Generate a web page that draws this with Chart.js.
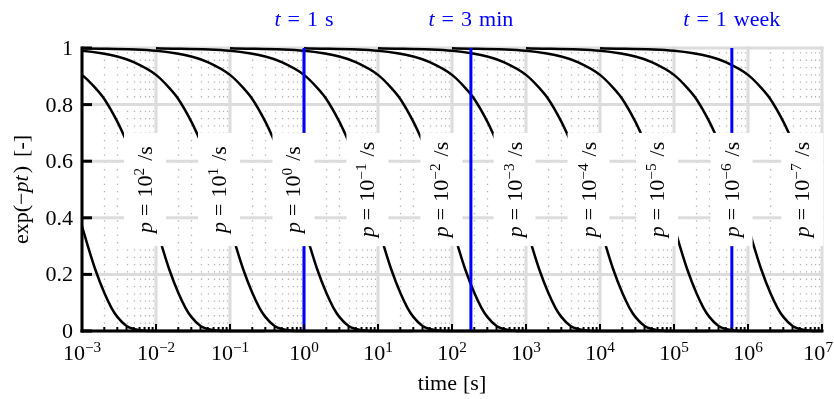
<!DOCTYPE html>
<html><head><meta charset="utf-8">
<script src="https://cdn.jsdelivr.net/npm/chart.js@4.4.0/dist/chart.umd.min.js"></script>
<style>html,body{margin:0;padding:0;background:#fff;}</style>
</head><body>
<canvas id="c" width="834" height="399" style="display:block;width:834px;height:399px"></canvas>
<script>
// ---- data ----
const rateExponents = [3, 2, 1, 0, -1, -2, -3, -4, -5, -6, -7];          // p = 10^k /s
const shapePT = [0.001, 0.01, 0.03, 0.05, 0.1, 0.15, 0.2, 0.3, 0.4, 0.5, 0.6, 0.7, 0.8, 1, 1.2, 1.5, 2, 2.5, 3, 4, 5, 7, 10, 30];
const shapeY  = [0.999, 0.99, 0.97, 0.95, 0.905, 0.86, 0.82, 0.74, 0.67, 0.61, 0.55, 0.50, 0.45, 0.37, 0.30, 0.22, 0.135, 0.082, 0.05, 0.018, 0.007, 0.001, 0, 0];
const labelExponents = [2, 1, 0, -1, -2, -3, -4, -5, -6, -7];
const labelTimes = [7.1e-3, 7.1e-2, 0.72, 7.2, 72, 700, 7000, 5.9e4, 6.0e5, 5.4e6];
const markerTimes = [1, 180, 604800];
const markerLabels = ['1', '3', '1'];
const markerUnits = ['s', 'min', 'week'];
const xTickExponents = [-3, -2, -1, 0, 1, 2, 3, 4, 5, 6, 7];
const yTickValues = [0, 0.2, 0.4, 0.6, 0.8, 1];
const yTickLabels = ['0', '0.2', '0.4', '0.6', '0.8', '1'];

// ---- helpers ----
const FAM = '"Liberation Serif", "Times New Roman", serif';
const FS = 21, SUP = 14.5, SX = 1.05;
function fnt(size, italic){ return (italic ? 'italic ' : '') + size + 'px ' + FAM; }
function sup(e){ return e < 0 ? '\u2212' + (-e) : String(e); }
function segW(ctx, s){ if (s.gap !== undefined) return s.gap; ctx.font = fnt(s.size || FS, s.italic); return ctx.measureText(s.text).width * SX; }
function richW(ctx, segs){ let w = 0; for (const s of segs) w += segW(ctx, s); return w; }
function drawRich(ctx, segs, x, y, align, maxRight){
  const w = richW(ctx, segs);
  let cx = align === 'center' ? x - w / 2 : (align === 'right' ? x - w : x);
  if (maxRight !== undefined && cx + w > maxRight) cx = maxRight - w;
  ctx.textAlign = 'left'; ctx.textBaseline = 'alphabetic';
  for (const s of segs){
    const sw = segW(ctx, s);
    if (s.gap === undefined){
      ctx.font = fnt(s.size || FS, s.italic);
      ctx.save(); ctx.translate(cx, y + (s.dy || 0)); ctx.scale(SX, 1); ctx.fillText(s.text, 0, 0); ctx.restore();
    }
    cx += sw;
  }
}

const datasets = rateExponents.map(k => ({
  data: shapePT.map((pt, i) => ({ x: pt / Math.pow(10, k), y: shapeY[i] })),
  borderColor: '#000', borderWidth: 2.5, pointRadius: 0, fill: false,
  cubicInterpolationMode: 'monotone', clip: { left: 0, right: 0, top: 3, bottom: 3 }
}));

const decorations = {
  id: 'decorations',
  beforeDatasetsDraw(chart){
    const ctx = chart.ctx, xs = chart.scales.x, ys = chart.scales.y, a = chart.chartArea;
    ctx.save();
    // minor dotted verticals
    ctx.strokeStyle = '#b4b4b4'; ctx.lineWidth = 1.3; ctx.setLineDash([1.3, 6]);
    for (const e of xTickExponents){
      if (e >= 7) continue;
      for (let m = 2; m <= 9; m++){
        const x = Math.round(xs.getPixelForValue(m * Math.pow(10, e))) + 0.5;
        ctx.beginPath(); ctx.moveTo(x, a.bottom); ctx.lineTo(x, a.top); ctx.stroke();
      }
    }
    ctx.setLineDash([]);
    // major grid
    ctx.strokeStyle = '#dcdcdc'; ctx.lineWidth = 3;
    for (const e of xTickExponents){
      const x = xs.getPixelForValue(Math.pow(10, e));
      ctx.beginPath(); ctx.moveTo(x, a.bottom); ctx.lineTo(x, a.top - 1.5); ctx.stroke();
    }
    for (const v of yTickValues){
      const y = ys.getPixelForValue(v);
      ctx.beginPath(); ctx.moveTo(a.left, y); ctx.lineTo(a.right + 1.5, y); ctx.stroke();
    }
    ctx.restore();
  },
  afterDatasetsDraw(chart){
    const ctx = chart.ctx, xs = chart.scales.x, ys = chart.scales.y, a = chart.chartArea;
    ctx.save();
    // blue marker lines
    ctx.strokeStyle = '#0000ff'; ctx.lineWidth = 3;
    markerTimes.forEach(t => {
      const x = xs.getPixelForValue(t);
      ctx.beginPath(); ctx.moveTo(x, a.top); ctx.lineTo(x, a.bottom); ctx.stroke();
    });
    // label boxes
    const yTop = ys.getPixelForValue(0.7), yBot = ys.getPixelForValue(0.3), yMid = ys.getPixelForValue(0.5);
    labelTimes.forEach((t, i) => {
      const x = xs.getPixelForValue(t);
      ctx.fillStyle = '#fff';
      ctx.fillRect(x - 21, yTop, 42, yBot - yTop);
      ctx.save();
      ctx.translate(x, yMid); ctx.rotate(-Math.PI / 2);
      ctx.fillStyle = '#000';
      drawRich(ctx, [
        { text: 'p', italic: true }, { gap: 6 }, { text: '=' }, { gap: 6 }, { text: '10' },
        { text: sup(labelExponents[i]), size: SUP, dy: -8 }, { gap: 7 }, { text: '/s' }
      ], 0, 7, 'center');
      ctx.restore();
    });
    // axes
    ctx.strokeStyle = '#000'; ctx.lineWidth = 3;
    ctx.beginPath(); ctx.moveTo(a.left, a.top - 1.5); ctx.lineTo(a.left, a.bottom + 1.5); ctx.stroke();
    ctx.beginPath(); ctx.moveTo(a.left - 1.5, a.bottom); ctx.lineTo(a.right + 1.5, a.bottom); ctx.stroke();
    // y ticks
    yTickValues.forEach(v => {
      const y = ys.getPixelForValue(v);
      ctx.beginPath(); ctx.moveTo(a.left, y); ctx.lineTo(a.left + 10, y); ctx.stroke();
    });
    // x ticks
    ctx.lineWidth = 2;
    xTickExponents.forEach(e => {
      const x = xs.getPixelForValue(Math.pow(10, e));
      ctx.beginPath(); ctx.moveTo(x, a.bottom); ctx.lineTo(x, a.bottom - 7); ctx.stroke();
      if (e < 7) for (let m = 2; m <= 9; m++){
        const xm = xs.getPixelForValue(m * Math.pow(10, e));
        ctx.beginPath(); ctx.moveTo(xm, a.bottom); ctx.lineTo(xm, a.bottom - 4); ctx.stroke();
      }
    });
    // tick labels
    ctx.fillStyle = '#000';
    xTickExponents.forEach(e => {
      const x = xs.getPixelForValue(Math.pow(10, e));
      drawRich(ctx, [{ text: '10' }, { text: sup(e), size: SUP, dy: -8 }], x, a.bottom + 29, 'center', chart.width - 1);
    });
    yTickValues.forEach((v, i) => {
      drawRich(ctx, [{ text: yTickLabels[i] }], a.left - 9, ys.getPixelForValue(v) + 7, 'right');
    });
    // axis titles
    drawRich(ctx, [{ text: 'time' }, { gap: 6 }, { text: '[s]' }], (a.left + a.right) / 2, 390, 'center');
    ctx.save(); ctx.translate(28, (a.top + a.bottom) / 2); ctx.rotate(-Math.PI / 2);
    drawRich(ctx, [{ text: 'exp(\u2212' }, { text: 'pt', italic: true }, { gap: 2 }, { text: ')' }, { gap: 9 }, { text: '[-]' }], 0, 0, 'center');
    ctx.restore();
    // marker labels
    ctx.fillStyle = '#0000ff';
    markerTimes.forEach((t, i) => {
      drawRich(ctx, [{ text: 't', italic: true }, { gap: 7 }, { text: '=' }, { gap: 7 }, { text: markerLabels[i] }, { gap: 7 }, { text: markerUnits[i] }],
        xs.getPixelForValue(t), 26, 'center');
    });
    ctx.restore();
  }
};

new Chart(document.getElementById('c'), {
  type: 'line',
  data: { datasets },
  options: {
    responsive: false, animation: false, devicePixelRatio: 1,
    layout: { padding: { left: 82, right: 12, top: 48, bottom: 68 } },
    plugins: { legend: { display: false }, tooltip: { enabled: false } },
    scales: {
      x: { type: 'logarithmic', min: 1e-3, max: 1e7, ticks: { display: false }, grid: { display: false, drawTicks: false }, border: { display: false } },
      y: { type: 'linear', min: 0, max: 1, ticks: { display: false }, grid: { display: false, drawTicks: false }, border: { display: false } }
    }
  },
  plugins: [decorations]
});
</script>
</body></html>
